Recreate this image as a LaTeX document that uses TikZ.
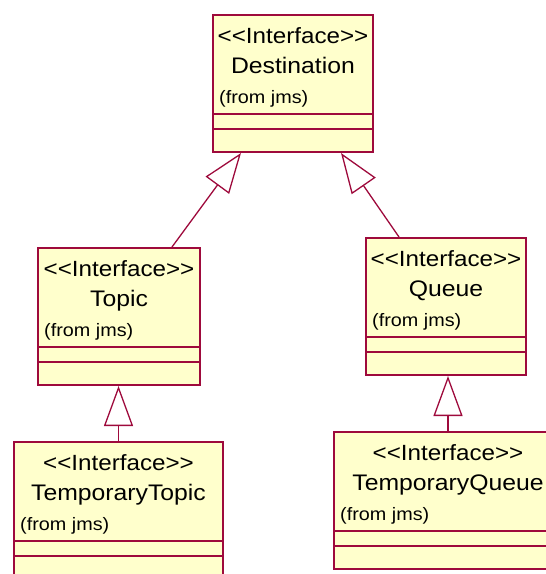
\documentclass[tikz,border=0pt]{standalone}
\usepackage{xcolor}
\usepackage{fontspec}
\usepackage{tikz}
\usetikzlibrary{positioning, arrows.meta}
\newfontfamily\umlfont{Liberation Sans}[FakeStretch=1.1]
\definecolor{umlline}{RGB}{158,10,60}
\definecolor{umlfill}{RGB}{255,255,204}

\begin{document}
\begin{tikzpicture}[
    x=1pt, y=-1pt,
    classbox/.style={draw=umlline, fill=umlfill, line width=2pt, minimum height=137pt, anchor=north west, inner sep=0pt},
    stereo/.style={anchor=base, inner sep=0pt, font=\umlfont\fontsize{22}{25}\selectfont},
    cname/.style={anchor=base, inner sep=0pt, font=\umlfont\fontsize{22.5}{25}\selectfont},
    pkg/.style={anchor=base west, inner sep=0pt, font=\umlfont\fontsize{18}{21}\selectfont},
    divider/.style={draw=umlline, line width=1.2pt},
    inherits/.style={draw=umlline, line width=1.3pt, -{Triangle[open, length=40pt, width=29pt]}}
]
\useasboundingbox (0,0) rectangle (546,574);
\clip (0,0) rectangle (546,574);

% class boxes
\node[classbox, minimum width=160pt] (dest)   at (212,14)  {};
\node[classbox, minimum width=162pt] (topic)  at (37,247)  {};
\node[classbox, minimum width=160pt] (queue)  at (365,237) {};
\node[classbox, minimum width=209pt] (ttopic) at (13,441)  {};
\node[classbox, minimum width=228pt] (tqueue) at (333,431) {};

% texts and compartments
\foreach \cls/\name in {dest/Destination, topic/Topic, queue/Queue, ttopic/TemporaryTopic, tqueue/TemporaryQueue} {
    \node[stereo] (\cls-st) at ([yshift=-29pt]\cls.north) {<<Interface>>};
    \node[cname] (\cls-nm) at ([yshift=-59pt]\cls.north) {\name};
    \node[pkg] (\cls-pk) at ([xshift=7pt, yshift=-89pt]\cls.north west) {(from jms)};
    \draw[divider] ([yshift=-100pt]\cls.north west) -- ([yshift=-100pt]\cls.north east);
    \draw[divider] ([yshift=-115pt]\cls.north west) -- ([yshift=-115pt]\cls.north east);
}

% generalizations
\draw[inherits] ([xshift=53pt]topic.north) -- ([xshift=-52pt]dest.south);
\draw[inherits] ([xshift=-47pt]queue.north) -- ([xshift=48pt]dest.south);
\draw[inherits] (ttopic.north) -- (ttopic.north |- topic.south);
\draw[inherits] (tqueue.north) -- (tqueue.north |- queue.south);
\end{tikzpicture}
\end{document}
